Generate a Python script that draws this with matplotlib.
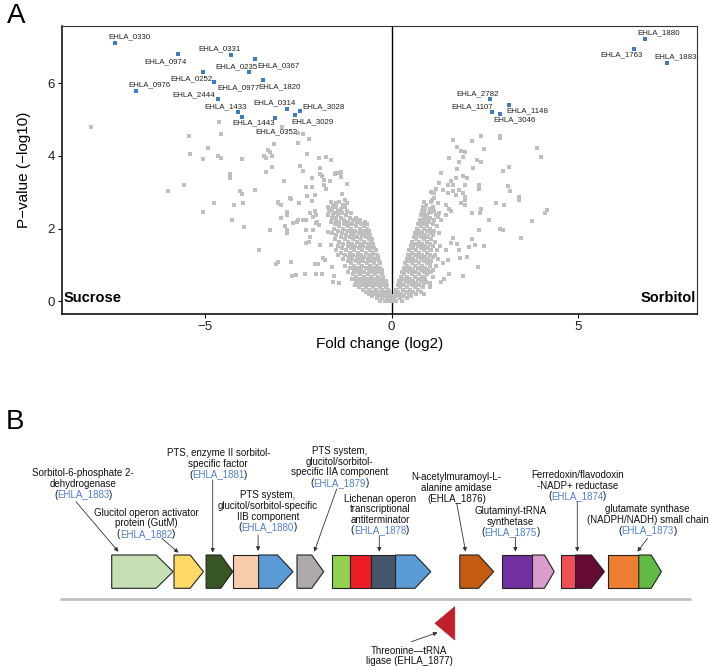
import matplotlib
matplotlib.use("Agg")
import matplotlib.pyplot as plt
from matplotlib.patches import Polygon, Rectangle

plt.rcParams['font.family'] = ['Liberation Sans', 'DejaVu Sans']

# ---------------- panel A data: volcano ----------------
sig_names = ['EHLA_0330', 'EHLA_0974', 'EHLA_0331', 'EHLA_0367', 'EHLA_0235', 'EHLA_0252',
             'EHLA_0977', 'EHLA_1820', 'EHLA_0976', 'EHLA_2444', 'EHLA_1433', 'EHLA_1443',
             'EHLA_0314', 'EHLA_3028', 'EHLA_3029', 'EHLA_0352',
             'EHLA_1880', 'EHLA_1763', 'EHLA_1883', 'EHLA_2782', 'EHLA_1107', 'EHLA_1148',
             'EHLA_3046']
sig_fc = [-7.43, -5.73, -4.30, -3.66, -3.83, -5.06, -4.76, -3.44, -6.85, -4.67, -4.12, -4.01,
          -2.81, -2.47, -2.60, -3.12, 6.81, 6.51, 7.40, 2.64, 2.70, 3.16, 2.91]
sig_p = [7.10, 6.80, 6.78, 6.65, 6.30, 6.31, 6.03, 6.09, 5.79, 5.57, 5.21, 5.08,
         5.30, 5.23, 5.11, 5.03, 7.22, 6.95, 6.56, 5.56, 5.20, 5.41, 5.15]
# where each gene label sits (data coords)
label_xy = [(-7.05, 7.27), (-6.07, 6.60), (-4.63, 6.94), (-3.04, 6.47), (-4.16, 6.45),
            (-5.37, 6.13), (-4.12, 5.88), (-3.00, 5.91), (-6.49, 5.95), (-5.30, 5.69),
            (-4.45, 5.36), (-3.71, 4.91), (-3.14, 5.46), (-1.84, 5.35), (-2.13, 4.93),
            (-3.09, 4.66), (7.18, 7.38), (6.18, 6.78), (7.63, 6.72), (2.31, 5.72),
            (2.16, 5.35), (3.64, 5.23), (3.30, 4.98)]

# non significant genes, scattered ones
grey_sparse = [
    (-8.08, 4.78), (-6.00, 3.02), (-5.57, 3.20), (-5.07, 2.45), (-5.42, 4.04), (-4.63, 4.92),
    (-5.45, 4.55), (-4.58, 4.60), (-4.94, 4.21), (-5.07, 3.90), (-4.66, 4.00), (-4.59, 3.95),
    (-4.02, 3.90), (-4.34, 3.49), (-4.34, 3.40), (-4.06, 3.03), (-4.01, 2.96), (-3.67, 3.06),
    (-4.76, 2.69), (-4.23, 2.66), (-4.00, 2.69), (-4.28, 2.24), (-3.95, 2.05), (-3.57, 1.40),
    (-3.26, 1.96), (-3.04, 2.69), (-2.90, 3.31), (-2.81, 2.45), (-2.98, 2.30), (-2.86, 2.07),
    (-2.82, 1.96), (-2.81, 1.87), (-2.69, 2.81), (-2.49, 2.71), (-2.66, 2.14), (-2.54, 2.19),
    (-2.38, 2.23), (-3.04, 1.08), (-3.11, 1.02), (-2.69, 1.08), (-2.67, 0.69), (-2.58, 0.73),
    (-2.33, 0.74), (-2.06, 1.02), (-1.97, 1.02), (-2.02, 0.74), (-1.88, 0.74), (-2.31, 1.59),
    (-2.22, 1.63), (-2.20, 1.77), (-2.29, 1.96), (-2.11, 1.96), (-2.11, 2.32), (-2.02, 2.14),
    (-1.95, 2.09), (-1.91, 1.56), (-1.84, 1.18), (-1.80, 1.13), (-1.59, 0.93), (-1.55, 0.70),
    (-1.41, 0.49), (-1.57, 0.53), (-1.70, 1.91), (-1.62, 1.54), (-1.48, 1.40), (-1.44, 1.27),
    (-2.95, 4.80), (-2.51, 4.62), (-2.39, 4.59), (-2.22, 4.45), (-2.51, 4.34), (-3.17, 4.32),
    (-3.31, 4.16), (-3.27, 4.11), (-3.42, 4.00), (-3.38, 3.95), (-3.21, 3.99), (-2.27, 4.04),
    (-1.96, 3.93), (-1.75, 3.96), (-3.22, 3.70), (-3.36, 3.56), (-2.47, 3.72), (-2.38, 3.58),
    (-1.91, 3.66), (-1.88, 3.45), (-1.82, 3.33), (-2.13, 3.38), (-2.31, 3.15), (-2.15, 3.15),
    (-1.82, 3.20), (-1.75, 3.10), (-2.72, 2.83), (-2.27, 2.89), (-2.05, 2.92), (-2.13, 2.75),
    (-3.06, 2.74), (-2.98, 2.64), (-2.81, 2.37), (-2.20, 2.42), (-2.02, 2.37), (-2.06, 2.48),
    (-2.50, 2.23), (-2.29, 2.23), (-1.53, 3.50), (-1.39, 3.53), (-1.35, 3.42), (-1.19, 3.22),
    (-1.66, 3.31), (-1.91, 3.50), (-1.64, 3.88), (-1.48, 3.52), (-1.37, 3.56), (-1.33, 2.94),
    (-1.25, 2.78), (-1.21, 2.69), (-1.57, 2.64), (-1.50, 2.69), (-1.62, 2.51), (-1.57, 2.37),
    (-1.48, 2.28), (-1.39, 2.42), (-1.99, 2.18),
    (2.90, 4.55), (2.90, 4.48), (2.41, 4.55), (2.15, 4.41), (1.65, 4.44), (1.76, 4.25),
    (2.49, 4.18), (3.91, 4.22), (4.01, 3.96), (1.85, 4.13), (1.96, 4.10), (1.91, 3.98),
    (1.55, 3.93), (1.80, 3.84), (2.29, 3.88), (2.40, 3.84), (2.19, 3.67), (1.76, 3.63),
    (1.33, 3.53), (1.93, 3.44), (2.03, 3.40), (1.73, 3.40), (1.60, 3.31), (1.65, 3.20),
    (1.51, 3.20), (2.98, 3.58), (3.14, 3.70), (2.34, 3.21), (2.36, 3.09), (1.96, 3.20),
    (3.12, 3.18), (3.19, 3.03), (3.41, 2.87), (3.43, 2.78), (1.27, 3.24), (1.20, 3.10),
    (1.38, 3.06), (1.11, 2.97), (1.14, 2.85), (1.24, 2.69), (1.51, 2.97), (1.65, 3.03),
    (1.72, 2.92), (1.80, 3.06), (1.91, 2.99), (1.96, 2.87), (1.98, 2.78), (1.47, 2.66),
    (1.53, 2.55), (1.87, 2.69), (1.96, 2.64), (1.60, 2.48), (2.16, 2.44), (2.40, 2.55),
    (2.38, 2.42), (2.79, 2.69), (3.03, 2.66), (3.78, 2.20), (2.61, 2.23), (0.88, 2.37),
    (0.97, 2.28), (1.06, 2.46), (1.24, 2.32), (1.47, 2.37), (4.12, 2.44), (4.18, 2.50),
    (3.48, 1.75), (2.90, 1.98), (3.00, 1.97), (2.36, 1.96), (2.49, 1.52), (2.31, 0.93),
    (1.93, 0.69), (2.02, 1.22), (1.84, 1.20), (2.16, 1.70), (2.23, 1.54), (2.07, 1.50),
    (1.82, 1.40), (1.75, 1.57), (1.64, 1.73), (1.60, 1.59), (1.47, 1.40), (1.51, 1.13),
    (1.38, 1.04), (1.55, 0.76), (1.42, 0.62), (1.33, 0.53), (1.11, 1.22), (1.02, 0.99),
    (1.11, 0.85), (0.88, 0.67), (0.93, 0.53), (1.02, 0.39), (0.88, 0.21), (1.06, 3.01),
    (1.15, 2.97), (1.09, 2.78),
]

# dense core near the origin, row by row: (-log10 p, [fold changes])
grey_core = [
    (2.72, [-1.64, -1.42, 0.86, 1.06]),
    (2.66, [-1.53, -1.31, 0.93]),
    (2.60, [-1.70, -1.48, -1.26, 0.84, 1.10]),
    (2.54, [-1.60, -1.37, 0.90, 1.02]),
    (2.48, [-1.67, -1.45, -1.20, 0.82, 1.14]),
    (2.42, [-1.56, -1.33, -1.10, 0.88, 1.00, 1.26]),
    (2.36, [-1.70, -1.45, -1.22, 0.80, 0.94, 1.18]),
    (2.30, [-1.60, -1.36, -1.12, -0.96, 0.86, 1.04]),
    (2.24, [-1.50, -1.27, -1.03, -0.84, 0.76, 0.92, 1.14, 1.32]),
    (2.18, [-1.62, -1.40, -1.16, -0.92, -0.72, 0.82, 1.00]),
    (2.12, [-1.52, -1.28, -1.06, -0.82, -0.66, 0.72, 0.90, 1.10]),
    (2.06, [-1.42, -1.18, -0.96, -0.74, 0.78, 0.96, 1.22]),
    (2.00, [-1.55, -1.30, -1.08, -0.86, -0.66, 0.68, 0.86, 1.04]),
    (1.94, [-1.44, -1.20, -0.98, -0.76, -0.60, 0.74, 0.94, 1.14]),
    (1.88, [-1.60, -1.34, -1.10, -0.88, -0.68, 0.64, 0.82, 1.02, 1.28]),
    (1.82, [-1.48, -1.22, -1.00, -0.79, -0.58, 0.70, 0.90, 1.10]),
    (1.76, [-1.36, -1.12, -0.92, -0.70, 0.60, 0.78, 0.98]),
    (1.70, [-1.52, -1.26, -1.04, -0.82, -0.62, -0.52, 0.66, 0.86, 1.06]),
    (1.64, [-1.40, -1.16, -0.94, -0.73, -0.56, 0.56, 0.74, 0.94, 1.16]),
    (1.58, [-1.30, -1.06, -0.85, -0.64, -0.49, 0.62, 0.82, 1.02]),
    (1.52, [-1.44, -1.18, -0.97, -0.76, -0.56, 0.52, 0.70, 0.90, 1.10, 1.30]),
    (1.46, [-1.32, -1.09, -0.88, -0.67, -0.46, 0.58, 0.78, 0.98]),
    (1.40, [-1.22, -1.00, -0.79, -0.58, -0.43, 0.48, 0.66, 0.86, 1.06, 1.22]),
    (1.34, [-1.36, -1.12, -0.91, -0.70, -0.50, 0.54, 0.74, 0.94]),
    (1.28, [-1.25, -1.03, -0.82, -0.61, -0.40, 0.44, 0.62, 0.82, 1.02, 1.16]),
    (1.22, [-1.14, -0.94, -0.73, -0.52, -0.36, 0.50, 0.70, 0.90]),
    (1.16, [-1.30, -1.05, -0.85, -0.64, -0.44, 0.40, 0.58, 0.78, 0.98, 1.24]),
    (1.10, [-1.18, -0.96, -0.76, -0.56, -0.34, 0.46, 0.66, 0.86, 1.06]),
    (1.04, [-1.08, -0.88, -0.67, -0.47, -0.31, 0.36, 0.54, 0.74, 0.94]),
    (0.98, [-1.24, -1.00, -0.79, -0.58, -0.40, 0.42, 0.62, 0.82, 1.02, 1.18]),
    (0.92, [-1.12, -0.91, -0.70, -0.50, -0.30, 0.32, 0.50, 0.70, 0.90]),
    (0.86, [-1.02, -0.82, -0.61, -0.42, -0.26, 0.38, 0.58, 0.78, 0.98]),
    (0.80, [-1.16, -0.93, -0.73, -0.53, -0.35, 0.28, 0.46, 0.66, 0.86, 1.06]),
    (0.74, [-1.04, -0.84, -0.64, -0.45, -0.27, 0.34, 0.54, 0.74, 0.94]),
    (0.68, [-0.95, -0.75, -0.55, -0.37, -0.22, 0.24, 0.42, 0.62, 0.82, 1.10]),
    (0.62, [-1.06, -0.86, -0.66, -0.47, -0.29, 0.30, 0.50, 0.70, 0.90]),
    (0.56, [-0.96, -0.77, -0.57, -0.39, -0.21, -0.15, 0.20, 0.38, 0.58, 0.78]),
    (0.50, [-0.87, -0.68, -0.49, -0.31, -0.16, 0.26, 0.46, 0.66, 0.86, 1.02]),
    (0.44, [-0.98, -0.78, -0.59, -0.40, -0.23, -0.12, 0.16, 0.34, 0.54, 0.74]),
    (0.38, [-0.88, -0.69, -0.50, -0.32, -0.16, 0.22, 0.42, 0.62, 0.84]),
    (0.32, [-0.78, -0.60, -0.42, -0.25, -0.10, 0.12, 0.30, 0.50, 0.70]),
    (0.26, [-0.70, -0.51, -0.34, -0.18, -0.07, 0.18, 0.38, 0.58, 0.78]),
    (0.20, [-0.60, -0.43, -0.27, -0.13, -0.04, 0.08, 0.26, 0.46, 0.66]),
    (0.14, [-0.52, -0.35, -0.20, -0.08, 0.02, 0.14, 0.34, 0.52]),
    (0.08, [-0.40, -0.26, -0.13, -0.03, 0.07, 0.22, 0.40]),
    (0.02, [-0.30, -0.17, -0.06, 0.03, 0.13, 0.28]),
]

grey_x = [p[0] for p in grey_sparse]
grey_y = [p[1] for p in grey_sparse]
for yy, xs in grey_core:
    for xx in xs:
        grey_x.append(xx)
        grey_y.append(yy)

# ---------------- panel B data: gene cluster ----------------
# each operon block: segment boundaries (schematic units) and fill colours
gene_blocks = [
    ([111.7, 173.1], ['#c5e0b4']),
    ([174.0, 203.4], ['#ffd966']),
    ([206.1, 232.8], ['#375623']),
    ([233.3, 258.6, 293.0], ['#f8cbad', '#5b9bd5']),
    ([297.0, 323.7], ['#aeaaaa']),
    ([331.8, 349.5, 370.7, 395.6, 430.8], ['#92d050', '#ee1c25', '#44546a', '#5b9bd5']),
    ([459.8, 493.7], ['#c55a11']),
    ([501.8, 532.5, 554.2], ['#7030a0', '#d99ccb']),
    ([561.0, 575.5, 604.4], ['#ef5058', '#640a35']),
    ([608.0, 638.8, 661.4], ['#ed7d31', '#62bb46']),
]
rev_gene = (435.0, 454.8, '#c0202a')   # threonine-tRNA ligase, minus strand

gene_text = [
    (['Sorbitol-6-phosphate 2-', 'dehydrogenase'], 'EHLA_1883', True, 83.3, 473.3),
    (['Glucitol operon activator', 'protein (GutM)'], 'EHLA_1882', True, 146.2, 512.7),
    (['PTS, enzyme II sorbitol-', 'specific factor'], 'EHLA_1881', True, 218.3, 453.3),
    (['PTS system,', 'glucitol/sorbitol-specific', 'IIB component'], 'EHLA_1880', True, 267.7, 495.3),
    (['PTS system,', 'glucitol/sorbitol-', 'specific IIA component'], 'EHLA_1879', True, 339.5, 451.0),
    (['Lichenan operon', 'transcriptional', 'antiterminator'], 'EHLA_1878', True, 380.0, 498.5),
    (['N-acetylmuramoyl-L-', 'alanine amidase'], 'EHLA_1876', False, 456.7, 477.3),
    (['Glutaminyl-tRNA', 'synthetase'], 'EHLA_1875', True, 510.8, 511.0),
    (['Ferredoxin/flavodoxin', '-NADP+ reductase'], 'EHLA_1874', True, 577.3, 475.0),
    (['glutamate synthase', '(NADPH/NADH) small chain'], 'EHLA_1873', True, 647.4, 509.3),
]
pointers = [((76.0, 501.7), (118.4, 551.7)), ((161.8, 538.3), (178.6, 552.7)),
            ((212.7, 480.0), (212.7, 552.7)), ((258.1, 535.0), (258.1, 551.0)),
            ((336.7, 489.0), (314.2, 551.7)), ((379.3, 536.5), (379.3, 551.7)),
            ((456.7, 503.0), (465.6, 551.7)), ((515.4, 537.3), (515.4, 551.7)),
            ((577.3, 501.5), (577.3, 551.7)), ((647.4, 538.5), (637.4, 551.7)),
            ((411.4, 641.7), (437.6, 632.5))]

BLUE_TXT = '#4f80d0'

fig = plt.figure(figsize=(7.09, 6.66), dpi=100)

# ---------------- volcano ----------------
ax = fig.add_axes([62 / 709, 1 - 314 / 666, 635 / 709, 288 / 666])
ax.scatter(grey_x, grey_y, marker='s', s=9, color='#bfbfbf', linewidths=0, zorder=2)
ax.scatter(sig_fc, sig_p, marker='s', s=11, color='#3f7cc2', linewidths=0, zorder=3)
for name, (lx, ly) in zip(sig_names, label_xy):
    ax.text(lx, ly, name, fontsize=5.7, ha='center', va='center', color='#222222', zorder=4)
ax.axvline(0, color='black', lw=1.0, zorder=1)
ax.set_xlim(-8.85, 8.2)
ax.set_ylim(-0.35, 7.57)
ax.set_xticks([-5, 0, 5])
ax.set_yticks([0, 2, 4, 6])
ax.tick_params(length=3, width=0.8, labelsize=9.5, labelcolor='#222222', pad=2)
for s in ['left', 'bottom']:
    ax.spines[s].set_linewidth(1.1)
for s in ['top', 'right']:
    ax.spines[s].set_linewidth(0.8)
    ax.spines[s].set_color('#333333')
ax.set_xlabel('Fold change (log2)', fontsize=11, labelpad=3)
ax.set_ylabel('P\u2212value (\u2212log10)', fontsize=11, labelpad=12)
ax.text(-8.8, 0.1, 'Sucrose', fontsize=10.5, fontweight='bold', ha='left', va='center')
ax.text(8.17, 0.1, 'Sorbitol', fontsize=10.5, fontweight='bold', ha='right', va='center')
fig.text(7 / 709, 1 - 3 / 666, 'A', fontsize=20, ha='left', va='top')

# ---------------- gene cluster ----------------
bx = fig.add_axes([0, 0, 1, 1 - 380 / 666])
bx.set_xlim(0, 709)
bx.set_ylim(666, 380)
bx.axis('off')
bx.text(6, 422, 'B', fontsize=20, ha='left', va='center')

top, bot = 555.0, 588.3
mid = (top + bot) / 2
bx.plot([60, 691], [598.7, 598.7], color='#bfbfbf', lw=2, solid_capstyle='butt', zorder=1)
for bounds, cols in gene_blocks:
    for i, c in enumerate(cols):
        x0, x1 = bounds[i], bounds[i + 1]
        if i < len(cols) - 1:
            bx.add_patch(Rectangle((x0, top), x1 - x0, bot - top, facecolor=c,
                                   edgecolor='#222222', lw=0.8, zorder=2))
        else:
            head = min(17.0, 0.45 * (x1 - x0))
            bx.add_patch(Polygon([(x0, top), (x1 - head, top), (x1, mid), (x1 - head, bot),
                                  (x0, bot)], closed=True, facecolor=c,
                                 edgecolor='#222222', lw=0.8, zorder=2))
rx0, rx1, rc = rev_gene
bx.add_patch(Polygon([(rx1, 606.7), (rx1, 640.0), (rx0, 623.3)], closed=True,
                     facecolor=rc, edgecolor=rc, lw=0.5, zorder=2))

renderer = fig.canvas.get_renderer()
fs = 7
dy = 10.6
for lines, code, blue, cx, y0 in gene_text:
    for k, line in enumerate(lines):
        bx.text(cx, y0 + k * dy, line, fontsize=fs, ha='center', va='center', color='#111111')
    yl = y0 + len(lines) * dy
    if blue:
        parts = [('(', '#111111'), (code, BLUE_TXT), (')', '#111111')]
        widths = []
        for p, c in parts:
            t = bx.text(0, 0, p, fontsize=fs)
            widths.append(t.get_window_extent(renderer).width)
            t.remove()
        x = cx - sum(widths) / 2
        for (p, c), w in zip(parts, widths):
            bx.text(x, yl, p, fontsize=fs, ha='left', va='center', color=c)
            x += w
    else:
        bx.text(cx, yl, '(' + code + ')', fontsize=fs, ha='center', va='center', color='#111111')

bx.text(409, 650.7, 'Threonine\u2014tRNA', fontsize=fs, ha='center', va='center', color='#111111')
bx.text(409, 650.7 + dy, 'ligase (EHLA_1877)', fontsize=fs, ha='center', va='center',
        color='#111111')

for start, end in pointers:
    bx.annotate('', xy=end, xytext=start,
                arrowprops=dict(arrowstyle='-|>', color='#333333', lw=0.6,
                                mutation_scale=6, shrinkA=0, shrinkB=0))

fig.savefig('out.png', dpi=100)
